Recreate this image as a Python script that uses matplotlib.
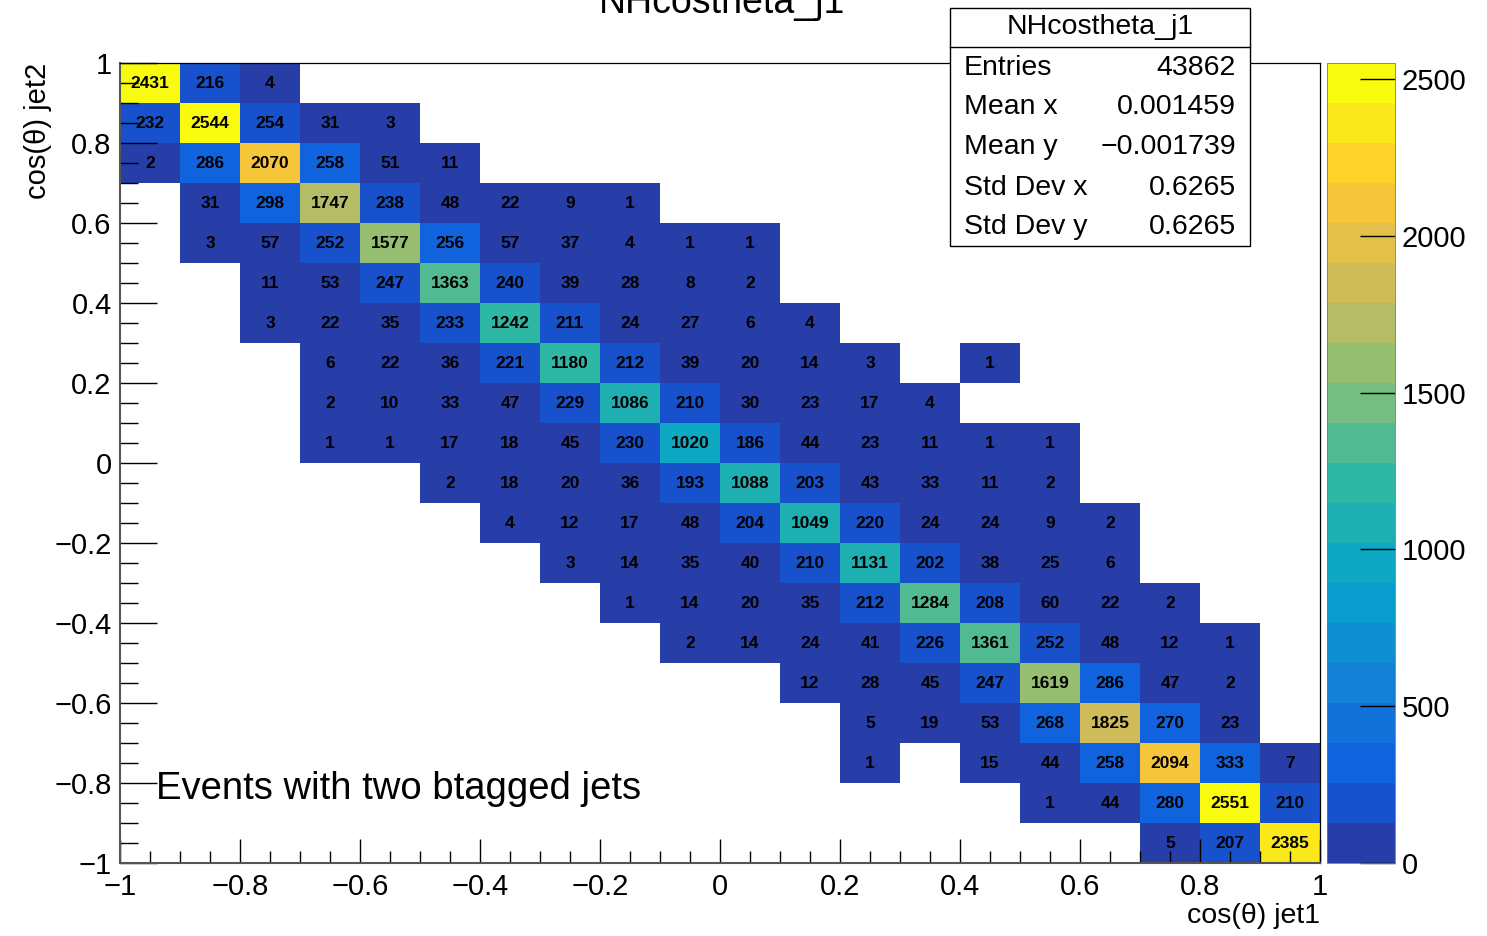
import numpy as np
import matplotlib
matplotlib.use("Agg")
import matplotlib.pyplot as plt
from matplotlib.colors import LinearSegmentedColormap, ListedColormap, BoundaryNorm
from matplotlib.patches import Rectangle
from matplotlib.lines import Line2D

plt.rcParams['font.family'] = ['Liberation Sans', 'DejaVu Sans']

# ---- data: 20x20 bins of cos(theta) jet1 vs jet2, rows listed from top (y=0.9..1) down
x_edges = np.linspace(-1, 1, 21)
y_edges = np.linspace(-1, 1, 21)

row_start = [0, 0, 0, 1, 1, 2, 2, 3, 3, 3, 5, 6, 7, 8, 9, 11, 12, 12, 15, 17]
row_values = [
    [2431, 216, 4],
    [232, 2544, 254, 31, 3],
    [2, 286, 2070, 258, 51, 11],
    [31, 298, 1747, 238, 48, 22, 9, 1],
    [3, 57, 252, 1577, 256, 57, 37, 4, 1, 1],
    [11, 53, 247, 1363, 240, 39, 28, 8, 2],
    [3, 22, 35, 233, 1242, 211, 24, 27, 6, 4],
    [6, 22, 36, 221, 1180, 212, 39, 20, 14, 3, 0, 1],
    [2, 10, 33, 47, 229, 1086, 210, 30, 23, 17, 4],
    [1, 1, 17, 18, 45, 230, 1020, 186, 44, 23, 11, 1, 1],
    [2, 18, 20, 36, 193, 1088, 203, 43, 33, 11, 2],
    [4, 12, 17, 48, 204, 1049, 220, 24, 24, 9, 2],
    [3, 14, 35, 40, 210, 1131, 202, 38, 25, 6],
    [1, 14, 20, 35, 212, 1284, 208, 60, 22, 2],
    [2, 14, 24, 41, 226, 1361, 252, 48, 12, 1],
    [12, 28, 45, 247, 1619, 286, 47, 2],
    [5, 19, 53, 268, 1825, 270, 23],
    [1, 0, 15, 44, 258, 2094, 333, 7],
    [1, 44, 280, 2551, 210],
    [5, 207, 2385],
]

tick_labels = ["\u22121", "\u22120.8", "\u22120.6", "\u22120.4", "\u22120.2", "0",
               "0.2", "0.4", "0.6", "0.8", "1"]
stat_names = ["Entries", "Mean x", "Mean y", "Std Dev x", "Std Dev y"]
stat_values = ["43862", "0.001459", "\u22120.001739", "0.6265", "0.6265"]

# build the count matrix (row index 0 = bottom)
counts = np.zeros((20, 20))
for i, (start, vals) in enumerate(zip(row_start, row_values)):
    r = 19 - i
    counts[r, start:start + len(vals)] = vals

# ROOT kBird palette, 20 contour levels
stops = [0.0, 0.125, 0.25, 0.375, 0.5, 0.625, 0.75, 0.875, 1.0]
red = [0.2082, 0.0592, 0.0780, 0.0232, 0.1802, 0.5301, 0.8186, 0.9956, 0.9764]
green = [0.1664, 0.3599, 0.5041, 0.6419, 0.7178, 0.7492, 0.7328, 0.7862, 0.9832]
blue = [0.5293, 0.8684, 0.8385, 0.7914, 0.6425, 0.4662, 0.3499, 0.1968, 0.0539]
bird = LinearSegmentedColormap.from_list("bird", list(zip(stops, zip(red, green, blue))))
nlev = 20
cmap = ListedColormap([bird(min((i + 0.99) / nlev, 1.0)) for i in range(nlev)])
zmax = counts.max()
levels = np.linspace(0, zmax, nlev + 1)
norm = BoundaryNorm(levels, nlev)

W, H = 1487, 936
fig = plt.figure(figsize=(W / 100, H / 100), dpi=100)

def fx(px):
    return px / W

def fy(py):
    return 1 - py / H

ax = fig.add_axes([fx(120), fy(863), fx(1320) - fx(120), fy(63) - fy(863)])
masked = np.ma.masked_where(counts == 0, counts)
mesh = ax.pcolormesh(x_edges, y_edges, masked, cmap=cmap, norm=norm)

xc = 0.5 * (x_edges[:-1] + x_edges[1:])
yc = 0.5 * (y_edges[:-1] + y_edges[1:])
for r in range(20):
    for c in range(20):
        if counts[r, c] > 0:
            ax.text(xc[c], yc[r], f"{int(counts[r, c])}", ha='center', va='center',
                    fontsize=12.5, fontweight='bold', color='black')

ax.set_xlim(-1, 1)
ax.set_ylim(-1, 1)
ax.set_xticks(np.arange(-1, 1.01, 0.2))
ax.set_yticks(np.arange(-1, 1.01, 0.2))
ax.set_xticks(np.arange(-1, 1.01, 0.05), minor=True)
ax.set_yticks(np.arange(-1, 1.01, 0.05), minor=True)
ax.set_xticklabels(tick_labels)
ax.set_yticklabels(tick_labels)
ax.tick_params(axis='x', which='major', direction='in', length=17, width=1, labelsize=21, pad=7)
ax.tick_params(axis='x', which='minor', direction='in', length=8.5, width=1)
ax.tick_params(axis='y', which='major', direction='in', length=26.5, width=1, labelsize=21, pad=6)
ax.tick_params(axis='y', which='minor', direction='in', length=13, width=1)
for s in ['left', 'bottom']:
    ax.spines[s].set_color('#555555')
    ax.spines[s].set_linewidth(1.5)
for s in ['top', 'right']:
    ax.spines[s].set_linewidth(0.9)

fig.text(fx(1320), fy(916), "cos(\u03b8) jet1", ha='right', va='center', fontsize=20.5)
fig.text(fx(38), fy(63), "cos(\u03b8) jet2", ha='center', va='top', rotation=90, fontsize=21)
ax.text(-0.94, -0.815, "Events with two btagged jets", ha='left', va='center', fontsize=27.5)

# colour bar
cax = fig.add_axes([fx(1327), fy(863), fx(1395) - fx(1327), fy(63) - fy(863)])
cb = fig.colorbar(mesh, cax=cax, ticks=[0, 500, 1000, 1500, 2000, 2500])
cb.outline.set_linewidth(0.6)
cb.outline.set_edgecolor('#777777')
cax.yaxis.set_ticks_position('right')
cax.tick_params(axis='y', direction='in', length=25, width=1, labelsize=21, pad=5)
cax.minorticks_off()

# title (cut off at the top, as in the original canvas)
fig.text(fx(722), fy(13), "NHcostheta_j1", ha='center', va='baseline', fontsize=27)

# stats box
x0, x1, y0, y1 = 950, 1250, 8, 246
fig.patches.append(Rectangle((fx(x0), fy(y1)), fx(x1) - fx(x0), fy(y0) - fy(y1),
                             transform=fig.transFigure, facecolor='white',
                             edgecolor='black', linewidth=1.0, zorder=10))
fig.lines.append(Line2D([fx(x0), fx(x1)], [fy(47), fy(47)], transform=fig.transFigure,
                        color='black', linewidth=1.0, zorder=11))
fig.text(fx(1100), fy(27), "NHcostheta_j1", ha='center', va='center', fontsize=20.5, zorder=12)
row_y = [68, 107, 147, 188, 227]
for name, val, yy in zip(stat_names, stat_values, row_y):
    fig.text(fx(964), fy(yy), name, ha='left', va='center', fontsize=20.5, zorder=12)
    fig.text(fx(1236), fy(yy), val, ha='right', va='center', fontsize=20.5, zorder=12)

fig.savefig("out.png", dpi=100)
